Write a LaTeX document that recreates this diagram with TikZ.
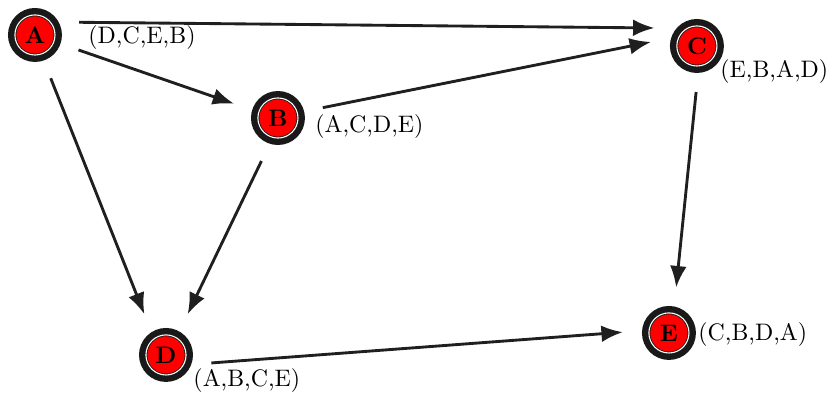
\documentclass[tikz,border=0pt]{standalone}
\usetikzlibrary{arrows.meta}
\begin{document}
\begin{tikzpicture}[
    vertex/.style={circle, fill=red, minimum size=16.8pt, inner sep=0pt, outer sep=10.9pt,
        draw=black!90, line width=0.35pt, double=white, double distance=0.45pt,
        preaction={draw=black!90, line width=5.8pt}, font=\bfseries},
    lbl/.style={anchor=west, inner sep=0pt},
    link/.style={draw=black!88, line width=1.2pt, -{Latex[length=9pt, width=7pt]}}
]
    \useasboundingbox (0,0) rectangle (12.24,-5.82);

    % Vertices
    \foreach \n/\x/\y in {A/0.515/-0.515, B/4.094/-1.738, C/10.265/-0.677, D/2.445/-5.228, E/9.853/-4.904} {
        \node[vertex] (\n) at (\x,\y) {\n};
    }

    % Orders
    \foreach \n/\x/\y/\t in {A/1.296/-0.560/{(D,C,E,B)}, B/4.639/-1.870/{(A,C,D,E)},
            C/10.604/-1.060/{(E,B,A,D)}, D/2.843/-5.611/{(A,B,C,E)}, E/10.280/-4.934/{(C,B,D,A)}} {
        \node[lbl] (l\n) at (\x,\y) {\t};
    }

    % Directed edges
    \foreach \s/\t in {A.16/C.157, A.-19/B.162, A.-70/D.118, B.13/C.175, B.-111/D.62, C.-91/E.81, D.-10/E.179} {
        \draw[link] (\s) -- (\t);
    }
\end{tikzpicture}
\end{document}
